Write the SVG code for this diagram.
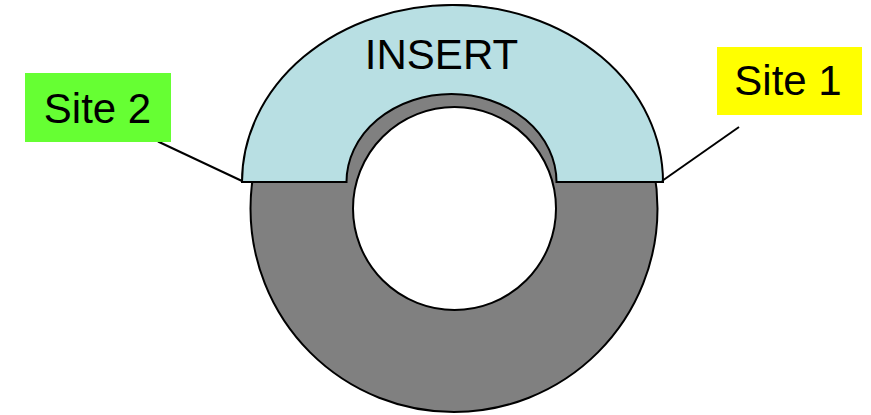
<svg xmlns="http://www.w3.org/2000/svg" width="871" height="415" viewBox="0 0 871 415">
  <style>
    .outline { stroke: #000; stroke-width: 2; }
    .label { font-family: "Liberation Sans", Arial, sans-serif; fill: #000; text-anchor: middle; }
    .connector { stroke: #000; stroke-width: 2; fill: none; }
  </style>
  <rect width="871" height="415" fill="#fff"/>

  <!-- gray ring with central hole -->
  <g id="ring">
    <circle cx="454" cy="208.5" r="203.5" fill="#808080" class="outline"/>
    <circle cx="454.5" cy="208.5" r="101.5" fill="#fff" class="outline"/>
  </g>

  <!-- half-ring insert sitting on top -->
  <g id="insert">
    <path d="M242,182 A210.5,177 0 0 1 663,182 L556.5,182 A105,88 0 0 0 346.5,182 Z" fill="#b8dfe3" class="outline" stroke-linejoin="miter"/>
    <text class="label" x="441.5" y="69" font-size="42">INSERT</text>
  </g>

  <!-- leader lines -->
  <g id="connectors">
    <line class="connector" x1="158" y1="141.5" x2="242" y2="181"/>
    <line class="connector" x1="739" y1="127" x2="662" y2="181"/>
  </g>

  <g id="site2">
    <rect x="25" y="73" width="146" height="69" fill="#66ff33"/>
    <text class="label" x="97.5" y="122.5" font-size="42">Site 2</text>
  </g>

  <g id="site1">
    <rect x="717" y="47" width="145" height="68" fill="#ffff00"/>
    <text class="label" x="788" y="95" font-size="42">Site 1</text>
  </g>
</svg>
